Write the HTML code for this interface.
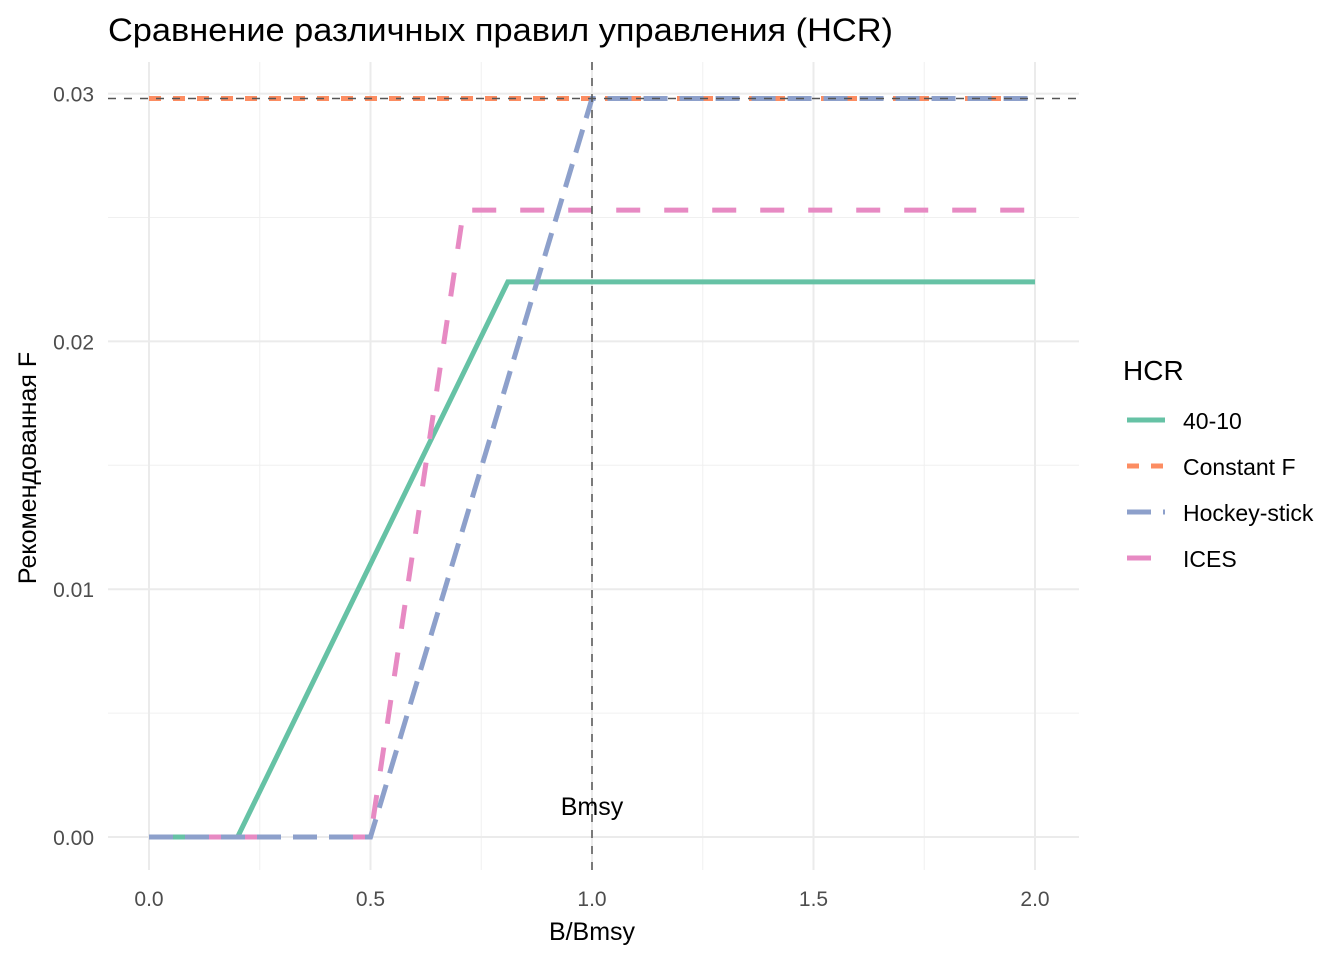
<!DOCTYPE html>
<html><head><meta charset="utf-8"><style>
body{margin:0;background:#fff;font-family:"Liberation Sans",sans-serif}
svg text{font-family:"Liberation Sans",sans-serif}
</style></head><body>
<svg id="chart" width="1344" height="960">
<text x="108" y="41" font-size="32" textLength="785" lengthAdjust="spacingAndGlyphs" fill="#000">Сравнение различных правил управления (HCR)</text>
<g id="grid"></g>
<g id="lines"></g>
<text x="592" y="940" font-size="25" text-anchor="middle">B/Bmsy</text>
<text transform="translate(36,468) rotate(-90)" font-size="25" text-anchor="middle">Рекомендованная F</text>
<g>
<text x="1123" y="380" font-size="28">HCR</text>
<g id="legend"></g>
</g>
</svg>
<script>
const xTicks=[0,0.5,1.0,1.5,2.0];
const xTickLabels=["0.0","0.5","1.0","1.5","2.0"];
const yTicks=[0,0.01,0.02,0.03];
const yTickLabels=["0.00","0.01","0.02","0.03"];
const seriesNames=["40-10","Constant F","Hockey-stick","ICES"];
const x4010=[0,0.2,0.81,2];const y4010=[0,0,0.0224,0.0224];
const xConst=[0,2];const yConst=[0.0298,0.0298];
const xHockey=[0,0.5,1.0,2];const yHockey=[0,0,0.0298,0.0298];
const xIces=[0,0.5,0.71,2];const yIces=[0,0,0.0253,0.0253];
const fmsy=0.0298;const bmsy=1.0;
const colors=["#66c2a5","#fc8d62","#8da0cb","#e78ac3"];
const dashes=["","12 12","24 12","24 24"];
const X=v=>149+v*443;const Y=v=>837-v*24780;
const NS="http://www.w3.org/2000/svg";
const grid=document.getElementById('grid'),lines=document.getElementById('lines'),leg=document.getElementById('legend');
function mk(tag,attrs,parent){const e=document.createElementNS(NS,tag);for(const k in attrs)e.setAttribute(k,attrs[k]);parent.appendChild(e);return e;}
for(let i=0;i<xTicks.length-1;i++){const v=(xTicks[i]+xTicks[i+1])/2;const l=mk('line',{x1:X(v),x2:X(v),y1:62,y2:870,stroke:'#f0f0f0','stroke-width':1},grid);

}
for(let i=0;i<yTicks.length-1;i++){const v=(yTicks[i]+yTicks[i+1])/2;const l=mk('line',{x1:108,x2:1079,y1:Y(v),y2:Y(v),stroke:'#f0f0f0','stroke-width':1},grid);

}
xTicks.forEach((v,i)=>{const l=mk('line',{x1:X(v),x2:X(v),y1:62,y2:870,stroke:'#ebebeb','stroke-width':2},grid);


const t=mk('text',{x:X(v),y:906,'font-size':21,fill:'#4d4d4d','text-anchor':'middle'},grid);t.textContent=xTickLabels[i];

});
yTicks.forEach((v,i)=>{const l=mk('line',{x1:108,x2:1079,y1:Y(v),y2:Y(v),stroke:'#ebebeb','stroke-width':2},grid);


const t=mk('text',{x:94,y:Y(v)+8,'font-size':21,fill:'#4d4d4d','text-anchor':'end'},grid);t.textContent=yTickLabels[i];

});
const sx=[x4010,xConst,xHockey,xIces],sy=[y4010,yConst,yHockey,yIces];
const order=[0,3,1,2];
order.forEach(i=>{const pts=sx[i].map((x,j)=>X(x)+','+Y(sy[i][j])).join(' ');
const p=mk('polyline',{points:pts,fill:'none',stroke:colors[i],'stroke-width':5,'stroke-dasharray':dashes[i]},lines);

});
const hl=mk('line',{x1:108,x2:1079,y1:Y(fmsy),y2:Y(fmsy),stroke:'#555','stroke-width':1.5,'stroke-dasharray':'8 8'},lines);


const vl=mk('line',{x1:X(bmsy),x2:X(bmsy),y1:62,y2:870,stroke:'#555','stroke-width':1.5,'stroke-dasharray':'8 8'},lines);


const bt=mk('text',{x:X(bmsy),y:815,'font-size':25,'text-anchor':'middle'},lines);bt.textContent='Bmsy';


seriesNames.forEach((n,i)=>{const y=420+i*46;
const l=mk('line',{x1:1127,x2:1165,y1:y,y2:y,stroke:colors[i],'stroke-width':5,'stroke-dasharray':dashes[i]},leg);


const t=mk('text',{x:1183,y:y+9,'font-size':23},leg);t.textContent=n;

});
</script>
</body></html>
